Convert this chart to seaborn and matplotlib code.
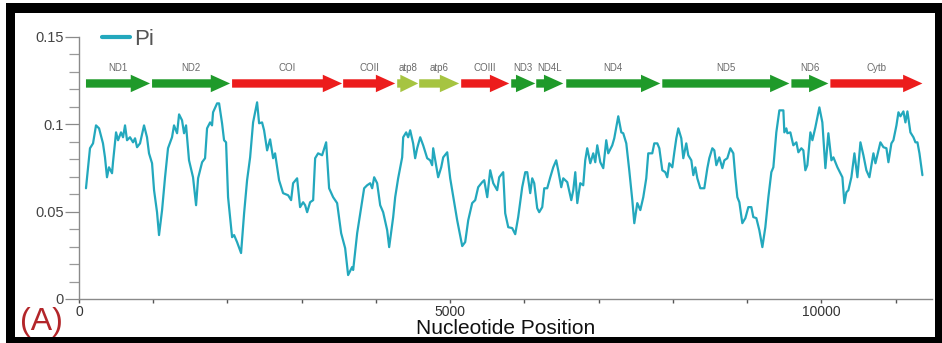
import numpy as np
import pandas as pd
import matplotlib
matplotlib.use("Agg")
import matplotlib.pyplot as plt
from matplotlib.patches import Rectangle
from matplotlib.ticker import MultipleLocator
import seaborn as sns

# ---- data ----
position = [94, 148, 189, 229, 270, 323, 350, 377, 404, 445, 458, 499, 526, 566, 593, 620, 647, 687,
            728, 755, 782, 822, 876, 916, 943, 984, 1011, 1051, 1078, 1119, 1159, 1199, 1253, 1280,
            1321, 1348, 1388, 1415, 1442, 1482, 1536, 1577, 1604, 1658, 1698, 1725, 1766, 1792, 1806,
            1860, 1887, 1927, 1954, 1981, 2008, 2062, 2089, 2129, 2183, 2224, 2264, 2305, 2345, 2399,
            2426, 2466, 2493, 2534, 2574, 2615, 2641, 2695, 2749, 2817, 2857, 2884, 2938, 2978, 3019,
            3046, 3073, 3113, 3154, 3181, 3221, 3275, 3329, 3369, 3423, 3477, 3531, 3585, 3625, 3679,
            3693, 3747, 3801, 3841, 3881, 3922, 3949, 3976, 4016, 4057, 4097, 4151, 4178, 4232, 4259,
            4299, 4353, 4367, 4407, 4434, 4461, 4501, 4528, 4555, 4596, 4636, 4690, 4730, 4757, 4771,
            4811, 4838, 4879, 4906, 4960, 5000, 5054, 5094, 5162, 5202, 5243, 5296, 5337, 5377, 5431,
            5458, 5499, 5539, 5580, 5633, 5660, 5714, 5741, 5782, 5835, 5876, 5916, 5970, 6011, 6038,
            6078, 6105, 6132, 6172, 6199, 6240, 6267, 6307, 6348, 6388, 6428, 6455, 6496, 6523, 6577,
            6631, 6658, 6685, 6712, 6752, 6792, 6819, 6846, 6887, 6927, 6954, 6981, 7022, 7062, 7102,
            7129, 7183, 7210, 7237, 7264, 7305, 7331, 7372, 7412, 7453, 7480, 7520, 7561, 7601, 7641,
            7668, 7722, 7749, 7790, 7817, 7857, 7897, 7924, 7951, 7992, 8019, 8046, 8073, 8113, 8140,
            8180, 8207, 8248, 8275, 8302, 8329, 8369, 8423, 8464, 8490, 8531, 8558, 8585, 8625, 8666,
            8693, 8733, 8774, 8814, 8841, 8868, 8895, 8935, 8976, 9016, 9057, 9083, 9124, 9164, 9205,
            9245, 9286, 9326, 9353, 9393, 9434, 9488, 9501, 9528, 9542, 9582, 9622, 9663, 9690, 9730,
            9757, 9784, 9811, 9852, 9879, 9919, 9973, 10013, 10054, 10094, 10135, 10162, 10216, 10256,
            10283, 10310, 10337, 10364, 10404, 10445, 10485, 10526, 10566, 10606, 10647, 10701, 10728,
            10795, 10836, 10876, 10903, 10943, 10970, 11011, 11038, 11065, 11105, 11132, 11159, 11199,
            11240, 11267, 11294, 11321, 11361]
pi = [0.0634, 0.0863, 0.0891, 0.0994, 0.0977, 0.0891, 0.0811, 0.0697, 0.0754, 0.0720, 0.0783, 0.0954,
      0.0909, 0.0954, 0.0926, 0.0994, 0.0909, 0.0926, 0.0897, 0.0920, 0.0869, 0.0891, 0.0994, 0.0926,
      0.0834, 0.0777, 0.0623, 0.0497, 0.0366, 0.0509, 0.0697, 0.0863, 0.0926, 0.0994, 0.0949, 0.1057,
      0.1023, 0.0949, 0.0994, 0.0794, 0.0697, 0.0537, 0.0691, 0.0783, 0.0806, 0.0977, 0.1011, 0.0994,
      0.1069, 0.1120, 0.1120, 0.1006, 0.0909, 0.0897, 0.0583, 0.0354, 0.0366, 0.0326, 0.0263, 0.0491,
      0.0680, 0.0811, 0.1011, 0.1126, 0.1006, 0.1011, 0.0966, 0.0851, 0.0914, 0.0806, 0.0834, 0.0680,
      0.0606, 0.0594, 0.0566, 0.0663, 0.0691, 0.0526, 0.0554, 0.0537, 0.0497, 0.0554, 0.0566, 0.0806,
      0.0834, 0.0823, 0.0897, 0.0634, 0.0583, 0.0549, 0.0377, 0.0291, 0.0137, 0.0183, 0.0166, 0.0377,
      0.0526, 0.0634, 0.0651, 0.0663, 0.0634, 0.0697, 0.0663, 0.0537, 0.0497, 0.0394, 0.0297, 0.0469,
      0.0583, 0.0691, 0.0811, 0.0926, 0.0954, 0.0926, 0.0966, 0.0891, 0.0806, 0.0863, 0.0926, 0.0880,
      0.0806, 0.0794, 0.0766, 0.0863, 0.0766, 0.0697, 0.0754, 0.0811, 0.0840, 0.0691, 0.0554, 0.0451,
      0.0303, 0.0326, 0.0451, 0.0549, 0.0566, 0.0640, 0.0669, 0.0680, 0.0583, 0.0737, 0.0663, 0.0623,
      0.0697, 0.0726, 0.0491, 0.0411, 0.0406, 0.0371, 0.0469, 0.0640, 0.0726, 0.0726, 0.0606, 0.0691,
      0.0663, 0.0520, 0.0497, 0.0526, 0.0634, 0.0634, 0.0697, 0.0754, 0.0794, 0.0737, 0.0640, 0.0691,
      0.0669, 0.0566, 0.0623, 0.0726, 0.0549, 0.0663, 0.0651, 0.0794, 0.0863, 0.0777, 0.0834, 0.0783,
      0.0880, 0.0783, 0.0749, 0.0909, 0.0834, 0.0880, 0.0920, 0.0983, 0.1046, 0.0954, 0.0949, 0.0891,
      0.0737, 0.0566, 0.0434, 0.0549, 0.0509, 0.0583, 0.0691, 0.0834, 0.0834, 0.0891, 0.0891, 0.0863,
      0.0737, 0.0726, 0.0697, 0.0777, 0.0754, 0.0840, 0.0920, 0.0977, 0.0920, 0.0806, 0.0891, 0.0823,
      0.0794, 0.0709, 0.0754, 0.0691, 0.0634, 0.0634, 0.0749, 0.0806, 0.0863, 0.0851, 0.0766, 0.0811,
      0.0749, 0.0794, 0.0806, 0.0863, 0.0834, 0.0697, 0.0583, 0.0554, 0.0434, 0.0463, 0.0526, 0.0526,
      0.0469, 0.0463, 0.0394, 0.0297, 0.0411, 0.0583, 0.0726, 0.0754, 0.0954, 0.1080, 0.1080, 0.0954,
      0.0977, 0.0949, 0.0954, 0.0880, 0.0897, 0.0840, 0.0863, 0.0851, 0.0737, 0.0766, 0.0954, 0.0909,
      0.0983, 0.1097, 0.1011, 0.0749, 0.0949, 0.0794, 0.0811, 0.0754, 0.0720, 0.0697, 0.0549, 0.0611,
      0.0623, 0.0697, 0.0834, 0.0697, 0.0897, 0.0823, 0.0737, 0.0697, 0.0834, 0.0777, 0.0897, 0.0869,
      0.0863, 0.0783, 0.0891, 0.0909, 0.0994, 0.1069, 0.1046, 0.1074, 0.1011, 0.1074, 0.0954, 0.0926,
      0.0897, 0.0897, 0.0834, 0.0709]

genes = ["ND1", "ND2", "COI", "COII", "atp8", "atp6", "COIII", "ND3", "ND4L", "ND4", "ND5", "ND6", "Cytb"]
gene_start = [94, 984, 2062, 3558, 4286, 4582, 5148, 5822, 6159, 6563, 7857, 9596, 10121]
gene_end = [957, 2035, 3544, 4259, 4569, 5121, 5795, 6146, 6523, 7830, 9569, 10094, 11361]
gene_group = ["nd", "nd", "co", "co", "atp", "atp", "co", "nd", "nd", "nd", "nd", "nd", "co"]

y_ticks = [0, 0.05, 0.1, 0.15]
y_ticklabels = ["0", "0.05", "0.1", "0.15"]
x_ticks = [0, 5000, 10000]
x_ticklabels = ["0", "5000", "10000"]

# ---- styling ----
LINE = "#23a8bd"
GROUP_COLORS = {"nd": "#1f9a2a", "co": "#ec1c1c", "atp": "#a6c441"}

sns.set_style("white")
plt.rcParams["font.family"] = ["Liberation Sans", "DejaVu Sans"]

W, H = 942, 343
fig = plt.figure(figsize=(W / 100, H / 100), dpi=100)
ax = fig.add_axes([79 / W, 1 - 299 / H, (932 - 79) / W, (299 - 37) / H])
ax.patch.set_alpha(0)

df = pd.DataFrame({"position": position, "pi": pi})
sns.lineplot(data=df, x="position", y="pi", ax=ax, color=LINE, linewidth=1.6, label="Pi")

ax.set_xlim(0, 11490)
ax.set_ylim(0, 0.15)

# gene arrows
arrow_y = 0.1234
for name, s, e, g in zip(genes, gene_start, gene_end, gene_group):
    length = e - s
    hl = min(260, length * 0.85)
    ax.arrow(s, arrow_y, length, 0, width=0.0048, head_width=0.0100, head_length=hl,
             length_includes_head=True, color=GROUP_COLORS[g], linewidth=0, zorder=3)
    ax.text((s + e) / 2, 0.1325, name, ha="center", va="center", fontsize=7, color="#6a6a6a")

# axes styling
for side in ["top", "right"]:
    ax.spines[side].set_visible(False)
for side in ["left", "bottom"]:
    ax.spines[side].set_color("#8a8a8a")
    ax.spines[side].set_linewidth(1.0)

ax.set_yticks(y_ticks)
ax.set_yticklabels(y_ticklabels)
ax.yaxis.set_minor_locator(MultipleLocator(0.01))
ax.tick_params(axis="y", which="major", direction="out", length=10, width=0.9, color="#8a8a8a",
               labelsize=10.5, labelcolor="#444444", pad=1, left=True)
ax.tick_params(axis="y", which="minor", direction="out", length=7, width=0.9, color="#9a9a9a", left=True)

ax.set_xticks(x_ticks)
ax.set_xticklabels(x_ticklabels)
ax.xaxis.set_minor_locator(MultipleLocator(1000))
ax.tick_params(axis="x", which="both", direction="out", length=3, width=1.0, color="#555555",
               labelsize=10, labelcolor="#333333", pad=1, bottom=True)

ax.set_ylabel("")
ax.set_xlabel("Nucleotide Position", fontsize=15, color="#111111", labelpad=0)

leg = ax.legend(loc="center left", bbox_to_anchor=(0.027, 0.99), frameon=False, fontsize=16,
                handlelength=1.25, handletextpad=0.2, borderpad=0, borderaxespad=0)
for t in leg.get_texts():
    t.set_color("#555555")
for h in leg.get_lines():
    h.set_linewidth(3)

fig.text(20 / W, 1 - 322 / H, "(A)", fontsize=23, color="#b3262a", ha="left", va="center")

# black border frame
def frame_rect(x0, y0, x1, y1):
    fig.patches.append(Rectangle((x0 / W, 1 - y1 / H), (x1 - x0) / W, (y1 - y0) / H,
                                 transform=fig.transFigure, facecolor="black", edgecolor="none"))

frame_rect(6, 3, 942, 13)
frame_rect(6, 3, 15, 343)
frame_rect(6, 337, 942, 343)
frame_rect(935, 3, 942, 343)

fig.savefig("out.png", dpi=100)
